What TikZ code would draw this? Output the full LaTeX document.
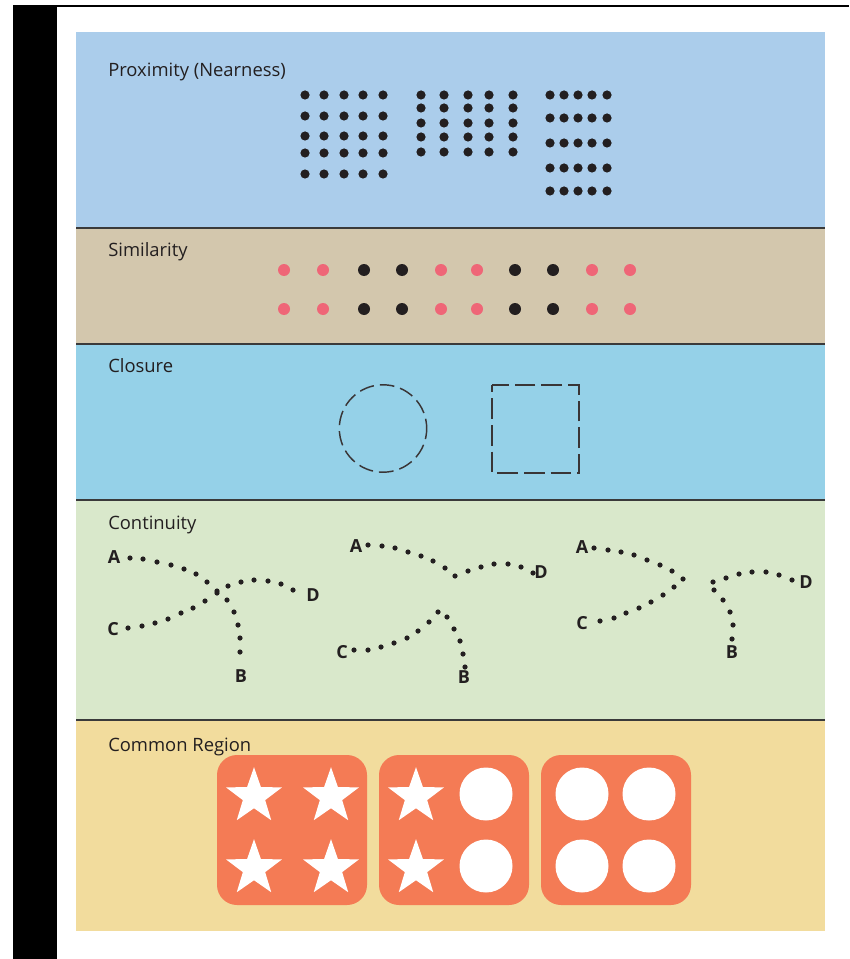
\documentclass[tikz,border=0pt]{standalone}
\usepackage{fontspec}
\setmainfont{Open Sans}
\usetikzlibrary{shapes.geometric}
\definecolor{ink}{HTML}{231F20}
\definecolor{proxblue}{HTML}{ABCDEB}
\definecolor{simtan}{HTML}{D3C7AD}
\definecolor{closblue}{HTML}{95D1E8}
\definecolor{contgreen}{HTML}{D9E8CB}
\definecolor{regyellow}{HTML}{F2DC9D}
\definecolor{regorange}{HTML}{F47B55}
\definecolor{simpink}{HTML}{EF6677}
\definecolor{sepgray}{HTML}{3A3A3A}
\tikzset{
  ttl/.style={anchor=base west,inner sep=0pt,text=ink,font=\fontsize{13.8}{16}\selectfont},
  ltr/.style={inner sep=0pt,text=ink,font=\fontsize{13.5}{16}\selectfont\bfseries},
  sepline/.style={draw=sepgray,line width=1.4pt},
  dashln/.style={draw=ink!90,line width=1.1pt},
  rbox/.style={rectangle,rounded corners=15pt,fill=regorange,minimum size=112.5pt,inner sep=0pt},
  wstar/.style={star,star points=5,star point ratio=2.5,fill=white,minimum size=44pt,inner sep=0pt},
  wdot/.style={circle,fill=white,minimum size=39.75pt,inner sep=0pt}
}
\begin{document}
\begin{tikzpicture}[x=0.75pt,y=-0.75pt]
  \useasboundingbox (0,0) rectangle (849,959);
  % Page frame
  \fill[black] (13,5) rectangle (57,959);
  \draw[black,line width=1.6pt] (57,6) -- (849,6);

  % Panels
  \fill[proxblue] (76,32) rectangle (825,228);
  \fill[simtan] (76,228) rectangle (825,344);
  \fill[closblue] (76,344) rectangle (825,500);
  \fill[contgreen] (76,500) rectangle (825,720);
  \fill[regyellow] (76,720) rectangle (825,931);
  \foreach \y in {228,344,500,720}
    \draw[sepline] (76,\y) -- (825,\y);

  % Titles
  \node[ttl] (tprox) at (108,77) {Proximity (Nearness)};
  \node[ttl] (tsim) at (108,256) {Similarity};
  \node[ttl] (tclos) at (108,372) {Closure};
  \node[ttl] (tcont) at (108,529) {Continuity};
  \node[ttl] (treg) at (108,751) {Common Region};

  % Proximity
  \foreach \y in {95,116,136,153,174} \foreach \x in {305,324,344,363,383}
    \fill[ink] (\x,\y) circle (4.6);
  \foreach \y in {95,108,123,137,152} \foreach \x in {421,444,468,489,513}
    \fill[ink] (\x,\y) circle (4.6);
  \foreach \y in {95,118,143,168,191} \foreach \x in {550,564,578,592,607}
    \fill[ink] (\x,\y) circle (4.6);

  % Similarity
  \foreach \x/\c in {284/simpink,323/simpink,364/ink,402/ink,441/simpink,477/simpink,515/ink,553/ink,592/simpink,630/simpink}
    \foreach \y in {270,309}
      \fill[\c] (\x,\y) circle (6);

  % Closure
  \draw[dashln,dash pattern=on 11pt off 4.5pt,dash phase=3pt] (383,428.5) circle (43.7);
  \draw[dashln,dash pattern=on 15.5pt off 4.5pt,dash phase=10pt] (492,385) rectangle (579,473);

  % Continuity
  \node[ltr] (a1) at (114,557) {A};
  \node[ltr] (c1) at (113,629) {C};
  \node[ltr] (d1) at (313,595) {D};
  \node[ltr] (b1) at (241,676) {B};
  \foreach \x/\y in {130/558,143/559,157/562,171/565,184/569,196/574,207/582,217/591,227/600,234/612,238/625,240/638,240/652}
    \fill[ink] (\x,\y) circle (2.6);
  \foreach \x/\y in {128/628,142/626,155/623,168/619,181/613,193/608,205/601,217/593,228/586,241/582,254/580,268/581,281/584,293/590}
    \fill[ink] (\x,\y) circle (2.6);

  \node[ltr] (a2) at (356,546) {A};
  \node[ltr] (d2) at (541,572) {D};
  \node[ltr] (c2) at (342,652) {C};
  \node[ltr] (b2) at (464,677) {B};
  \foreach \x/\y in {368/545,382/546,395/548,408/552,421/556,433/561,445/568,455/576,468/571,481/567,494/564,508/564,521/567,533/573}
    \fill[ink] (\x,\y) circle (2.6);
  \foreach \x/\y in {354/650,368/650,381/647,394/643,407/638,418/631,429/622,438/612,447/617,454/629,460/641,463/654,465/667}
    \fill[ink] (\x,\y) circle (2.6);

  \node[ltr] (a3) at (582,547) {A};
  \node[ltr] (c3) at (582,623) {C};
  \node[ltr] (d3) at (806,582) {D};
  \node[ltr] (b3) at (732,652) {B};
  \foreach \x/\y in {594/548,608/550,621/552,634/555,647/560,660/565,672/571,683/579,674/587,663/595,651/602,639/608,626/613,614/618,600/621}
    \fill[ink] (\x,\y) circle (2.6);
  \foreach \x/\y in {792/580,779/575,766/572,752/572,739/574,726/578,713/582,714/590,723/600,730/612,733/625,732/639}
    \fill[ink] (\x,\y) circle (2.6);

  % Common Region
  \node[rbox] (box1) at (292,830) {};
  \node[rbox] (box2) at (454,830) {};
  \node[rbox] (box3) at (616,830) {};
  \foreach \x in {254,331} \foreach \y in {796.5,868.5}
    \node[wstar] at (\x,\y) {};
  \foreach \y in {796.5,868.5}
    \node[wstar] at (416,\y) {};
  \foreach \y in {794,866}
    \node[wdot] at (486,\y) {};
  \foreach \x in {582,649} \foreach \y in {794,866}
    \node[wdot] at (\x,\y) {};

\end{tikzpicture}
\end{document}
